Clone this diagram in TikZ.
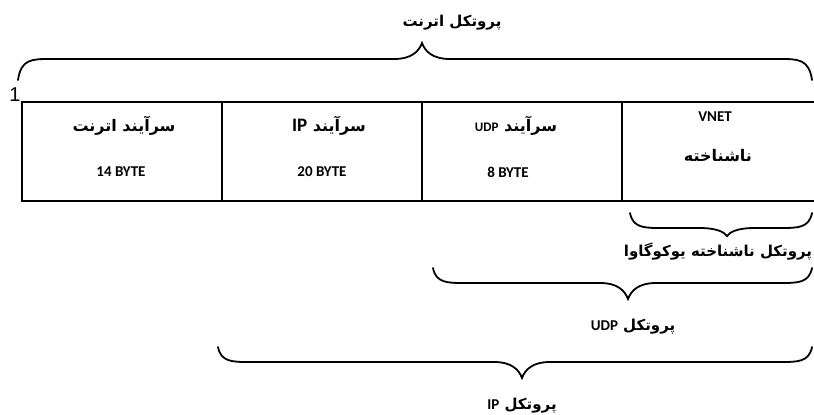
\documentclass[tikz,border=0pt]{standalone}
\usepackage{fontspec}
\TeXXeTstate=1
\newfontfamily\fa[Script=Arabic]{DejaVu Sans}
\newfontfamily\lat{Carlito}
\newfontfamily\numfont{Liberation Sans}
\newcommand{\hbr}[6]{% x1, x2, xt, yend, yflat, ytip
  \draw[bracestyle] (#1,#4) .. controls (#1+3,#5) and (#1+14,#5) .. (#1+32,#5)
    -- (#3-28,#5) .. controls (#3-10,#5) and (#3-3,#5*0.5+#6*0.5) .. (#3,#6)
    .. controls (#3+3,#5*0.5+#6*0.5) and (#3+10,#5) .. (#3+28,#5)
    -- (#2-32,#5) .. controls (#2-14,#5) and (#2-3,#5) .. (#2,#4);}
\begin{document}
\begin{tikzpicture}[x=1pt,y=-1pt,
  bracestyle/.style={line width=1.8pt, line cap=round},
  boxline/.style={line width=2.4pt},
  fatext/.style={font=\fa\bfseries\fontsize{15}{17}\selectfont, inner sep=0pt},
  celltext/.style={font=\fa\bfseries\fontsize{16}{18}\selectfont, inner sep=0pt},
  bytetext/.style={font=\lat\bfseries\fontsize{15}{17}\selectfont, inner sep=0pt}]
\useasboundingbox (0,0) rectangle (814,415);
\fill[white] (0,0) rectangle (814,415);

% title and top brace
\node[fatext] (title) at (452,23) {\beginR پروتکل اترنت\endR};
\hbr{18}{812}{422}{80}{59}{43}

% marker
\node[font=\numfont\fontsize{20}{22}\selectfont, inner sep=0pt] (mark) at (15,95) {1};

% frame
\coordinate (tl) at (22,102);
\coordinate (br) at (820,201);
\draw[boxline] (820,102) -- (tl) -- (22,201) -- (br);
\foreach \x in {222,422,622} \draw[boxline] (\x,102) -- (\x,201);

% cell texts
\node[celltext] (c1a) at (124,126) {\beginR سرآیند اترنت\endR};
\node[bytetext] (c1b) at (121,172) {14 BYTE};
\node[celltext] (c2a) at (329,126) {\beginR سرآیند {\lat\bfseries\fontsize{19}{21}\selectfont\beginL IP\endL}\endR};
\node[bytetext] (c2b) at (322,172) {20 BYTE};
\node[celltext] (c3a) at (516,126) {\beginR سرآیند {\lat\bfseries\fontsize{13}{15}\selectfont\beginL UDP\endL}\endR};
\node[bytetext] (c3b) at (508,172) {8 BYTE};
\node[bytetext] (c4a) at (715,117) {VNET};
\node[celltext] (c4b) at (718,156) {\beginR ناشناخته\endR};

% lower braces
\hbr{630}{812}{727}{213}{228}{236}
\node[fatext] (l1) at (718,252) {\beginR پروتکل ناشناخته یوکوگاوا\endR};
\hbr{433}{812}{628}{268}{283}{299}
\node[fatext] (l2) at (633,327) {\beginR پروتکل {\lat\bfseries\fontsize{15}{17}\selectfont\beginL UDP\endL}\endR};
\hbr{218}{812}{522}{347}{362}{378}
\node[fatext] (l3) at (522,406) {\beginR پروتکل {\lat\bfseries\fontsize{15}{17}\selectfont\beginL IP\endL}\endR};
\end{tikzpicture}
\end{document}
